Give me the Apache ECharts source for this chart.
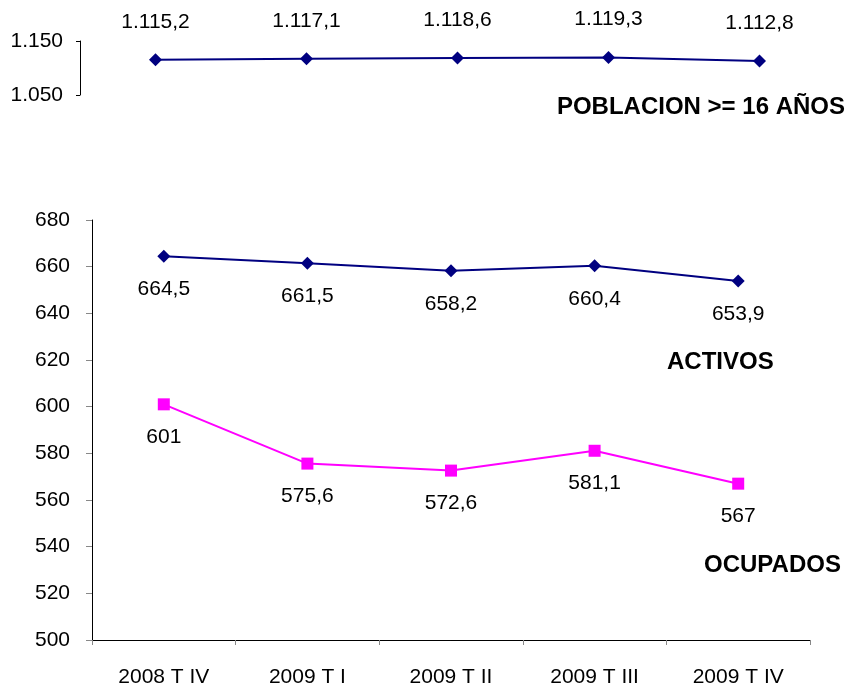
<!DOCTYPE html>
<html>
<head>
<meta charset="utf-8">
<script src="https://cdn.jsdelivr.net/npm/echarts@6/dist/echarts.min.js"></script>
<style>
  html, body { margin: 0; padding: 0; background: #fff; }
  #chart { width: 846px; height: 688px; }
</style>
</head>
<body>
<div id="chart"></div>
<script>
// datos
var trimestres = ["2008 T IV", "2009 T I", "2009 T II", "2009 T III", "2009 T IV"];
var poblacion = [1115.2, 1117.1, 1118.6, 1119.3, 1112.8];
var activos = [664.5, 661.5, 658.2, 660.4, 653.9];
var ocupados = [601, 575.6, 572.6, 581.1, 567];

var fuente = "Liberation Sans, Arial, sans-serif";
var tam = 21; // tamaño de los textos normales

// formato español: 1.115,2
function fmtEs(v, dec) {
  var s = dec ? v.toFixed(dec) : String(v);
  var partes = s.split(".");
  var ent = partes[0].replace(/\B(?=(\d{3})+(?!\d))/g, ".");
  return partes.length > 1 ? ent + "," + partes[1] : ent;
}

var myChart = echarts.init(document.getElementById("chart"));

myChart.setOption({
  animation: false,
  textStyle: { fontFamily: fuente },
  grid: [
    { left: 80, right: 11, top: 41, height: 54 },
    { left: 92, right: 36, top: 220, bottom: 48 }
  ],
  xAxis: [
    {
      gridIndex: 0,
      type: "category",
      data: trimestres,
      show: false
    },
    {
      gridIndex: 1,
      type: "category",
      data: trimestres,
      axisLine: { lineStyle: { color: "#000", width: 1 } },
      axisTick: { show: true, length: 5, lineStyle: { color: "#888" } },
      axisLabel: { color: "#000", fontSize: tam, margin: 27, fontFamily: fuente }
    }
  ],
  yAxis: [
    {
      gridIndex: 0,
      type: "value",
      min: 1050,
      max: 1150,
      interval: 100,
      axisLine: { show: true, lineStyle: { color: "#000", width: 1 } },
      axisTick: { show: true, length: 4, lineStyle: { color: "#000" } },
      splitLine: { show: false },
      axisLabel: {
        color: "#000", fontSize: tam, margin: 17, fontFamily: fuente,
        formatter: function (v) { return fmtEs(v); }
      }
    },
    {
      gridIndex: 1,
      type: "value",
      min: 500,
      max: 680,
      interval: 20,
      axisLine: { show: true, lineStyle: { color: "#000", width: 1 } },
      axisTick: { show: true, length: 6, lineStyle: { color: "#888" } },
      splitLine: { show: false },
      axisLabel: { color: "#000", fontSize: tam, margin: 22, fontFamily: fuente }
    }
  ],
  series: [
    {
      name: "POBLACION >= 16 AÑOS",
      type: "line",
      xAxisIndex: 0,
      yAxisIndex: 0,
      data: poblacion,
      symbol: "diamond",
      symbolSize: 13,
      lineStyle: { color: "#000080", width: 2 },
      itemStyle: { color: "#000080" },
      label: {
        show: true, position: "top", distance: 21,
        color: "#000", fontSize: tam, fontFamily: fuente,
        formatter: function (p) { return fmtEs(p.value, 1); }
      }
    },
    {
      name: "ACTIVOS",
      type: "line",
      xAxisIndex: 1,
      yAxisIndex: 1,
      data: activos,
      symbol: "diamond",
      symbolSize: 13,
      lineStyle: { color: "#000080", width: 2 },
      itemStyle: { color: "#000080" },
      label: {
        show: true, position: "bottom", distance: 16,
        color: "#000", fontSize: tam, fontFamily: fuente,
        formatter: function (p) { return fmtEs(p.value, 1); }
      }
    },
    {
      name: "OCUPADOS",
      type: "line",
      xAxisIndex: 1,
      yAxisIndex: 1,
      data: ocupados,
      symbol: "rect",
      symbolSize: 12,
      lineStyle: { color: "#FF00FF", width: 2 },
      itemStyle: { color: "#FF00FF" },
      label: {
        show: true, position: "bottom", distance: 16,
        color: "#000", fontSize: tam, fontFamily: fuente,
        formatter: function (p) { return fmtEs(p.value); }
      }
    }
  ],
  // rotulos de las series
  graphic: [
    {
      type: "text", right: 1, top: 95,
      style: { text: "POBLACION >= 16 AÑOS", fill: "#000", font: "bold 24px " + fuente }
    },
    {
      type: "text", left: 667, top: 350,
      style: { text: "ACTIVOS", fill: "#000", font: "bold 24px " + fuente }
    },
    {
      type: "text", left: 704, top: 553,
      style: { text: "OCUPADOS", fill: "#000", font: "bold 24px " + fuente }
    }
  ]
});

window.addEventListener("resize", function () {
  myChart.resize();
});
</script>
</body>
</html>
